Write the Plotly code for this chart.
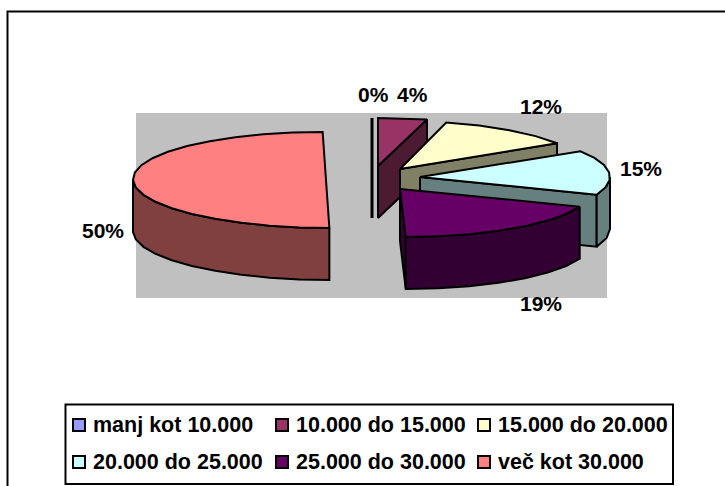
import math
import plotly.graph_objects as go

categories = ["manj kot 10.000", "10.000 do 15.000", "15.000 do 20.000",
              "20.000 do 25.000", "25.000 do 30.000", "več kot 30.000"]
shares = [0, 4, 12, 15, 19, 50]
top_colors = ["#9999FF", "#993366", "#FFFFCC", "#CCFFFF", "#660066", "#FF8080"]
side_colors = ["#4D4D80", "#4D1A33", "#808066", "#668080", "#330033", "#804040"]

# pixel-based drawing frame and slice geometry
W, H = 725, 486
RY, DEPTH = 48, 52
radii_x = [192, 197, 186, 190, 191, 193]
centers = [(372, 166), (378, 166), (400, 169), (420, 177), (400, 189), (326, 180)]
shears = [0, 0, 0, 0, 0.12, 0.07]
label_pos = [(373, 94), (412, 94), (541, 106), (641, 168), (541, 303), (103, 230)]
legend_pos = [(79, 425), (282, 425), (484, 425), (79, 462), (282, 462), (484, 462)]
legend_text_dx = 12


def point(c, deg, sh, rx):
    t = math.radians(deg)
    dy = -RY * math.cos(t)
    return c[0] + rx * math.sin(t) + sh * dy, c[1] + dy


def sweep(c, a0, a1, sh, rx, step=9):
    n = max(1, int((a1 - a0) / step))
    return [point(c, a0 + (a1 - a0) * k / n, sh, rx) for k in range(n + 1)]


def poly(xs, ys, fill):
    return go.Scatter(x=xs + xs[:1], y=ys + ys[:1], mode="lines", fill="toself",
                      fillcolor=fill, line=dict(color="black", width=2),
                      hoverinfo="skip", showlegend=False)


fig = go.Figure()
cum = 0
for i, v in enumerate(shares):
    a0, a1 = cum * 3.6, (cum + v) * 3.6
    cum += v
    c, sh, rx = centers[i], shears[i], radii_x[i]
    if v == 0:
        p = point(c, a0, sh, rx)
        fig.add_trace(go.Scatter(x=[p[0], p[0]], y=[p[1], c[1] + DEPTH], mode="lines",
                                 line=dict(color="black", width=3), hoverinfo="skip", showlegend=False))
        continue
    arc = sweep(c, a0, a1, sh, rx)
    start, end = arc[0], arc[-1]
    # radial cut faces that turn towards the viewer
    if end[0] > c[0]:
        fig.add_trace(poly([c[0], end[0], end[0], c[0]], [c[1], end[1], end[1] + DEPTH, c[1] + DEPTH], side_colors[i]))
    if start[0] < c[0]:
        fig.add_trace(poly([c[0], start[0], start[0], c[0]], [c[1], start[1], start[1] + DEPTH, c[1] + DEPTH], side_colors[i]))
    # outer rim, front half only
    r0, r1 = max(a0, 90), min(a1, 270)
    if r1 > r0:
        rim = sweep(c, r0, r1, sh, rx)
        fx = [p[0] for p in rim]
        fy = [p[1] for p in rim]
        fig.add_trace(poly(fx + fx[::-1], fy + [y + DEPTH for y in fy[::-1]], side_colors[i]))
    # top face
    fig.add_trace(poly([c[0]] + [p[0] for p in arc], [c[1]] + [p[1] for p in arc], top_colors[i]))

for (x, y), col in zip(legend_pos, top_colors):
    fig.add_trace(go.Scatter(x=[x], y=[y], mode="markers", hoverinfo="skip", showlegend=False,
                             marker=dict(symbol="square", size=12, color=col,
                                         line=dict(color="black", width=2))))

label_font = dict(family="Liberation Sans", size=21, color="black")
legend_font = dict(family="Liberation Sans", size=21.5, color="black")
ann = []
for (x, y), v in zip(label_pos, shares):
    ann.append(dict(x=x, y=y, text=f"<b>{v}%</b>", showarrow=False, font=label_font))
for (x, y), t in zip(legend_pos, categories):
    ann.append(dict(x=x + legend_text_dx, y=y, text=f"<b>{t}</b>", showarrow=False, xanchor="left",
                    font=legend_font))

shapes = [
    dict(type="rect", x0=7.5, y0=11.5, x1=760, y1=540, line=dict(color="black", width=2), fillcolor="white", layer="below"),
    dict(type="rect", x0=136, y0=113, x1=607, y1=298, line=dict(width=0), fillcolor="#C0C0C0", layer="below"),
    dict(type="rect", x0=65.5, y0=404.5, x1=673, y1=484, line=dict(color="black", width=2), fillcolor="white", layer="below"),
]

fig.update_layout(
    width=W, height=H, margin=dict(l=0, r=0, t=0, b=0), paper_bgcolor="white", plot_bgcolor="white",
    xaxis=dict(range=[0, W], visible=False, fixedrange=True),
    yaxis=dict(range=[H, 0], visible=False, fixedrange=True),
    shapes=shapes, annotations=ann, showlegend=False,
)
fig.write_html("out.html", config={"displayModeBar": False},
               post_script="document.body.style.margin='0';document.body.style.overflow='hidden';")
